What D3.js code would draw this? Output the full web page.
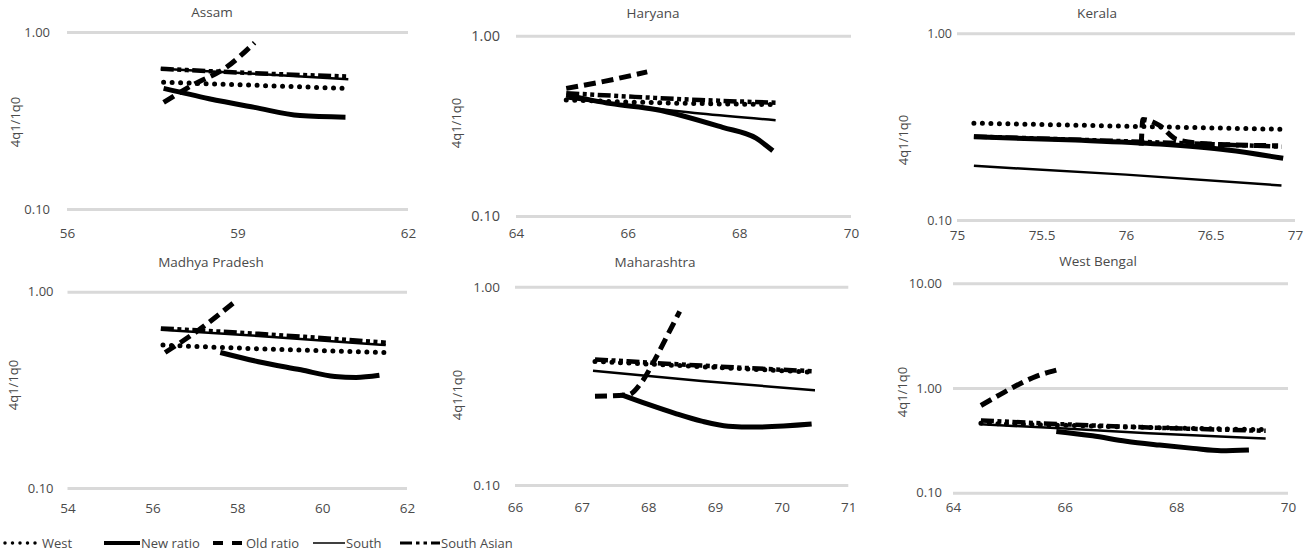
<!DOCTYPE html>
<html>
<head>
<meta charset="utf-8">
<script src="https://cdn.jsdelivr.net/npm/d3@7"></script>
<style>
  body { margin: 0; background: #fff; }
  svg text { font-family: "Open Sans", sans-serif; fill: #4a4a4a; }
</style>
</head>
<body>
<div id="chart"></div>
<script>
// series drawn in every panel, in legend order
const seriesNames = ['West', 'New ratio', 'Old ratio', 'South', 'South Asian'];

// [life expectancy, 4q1/1q0]
const assam = {
  'West':        [[57.7, 0.52], [58.5, 0.51], [59.3, 0.50], [60.1, 0.49], [60.95, 0.48]],
  'New ratio':   [[57.7, 0.48], [58.5, 0.42], [59.3, 0.375], [60.1, 0.337], [60.9, 0.33]],
  'Old ratio':   [[57.7, 0.40], [58.2, 0.50], [58.8, 0.63], [59.3, 0.87]],
  'South':       [[57.65, 0.62], [59.3, 0.58], [60.95, 0.54]],
  'South Asian': [[57.65, 0.62], [59.3, 0.585], [60.95, 0.56]]
};
const haryana = {
  'West':        [[64.9, 0.44], [66.5, 0.425], [68.65, 0.415]],
  'New ratio':   [[64.9, 0.47], [65.7, 0.42], [66.5, 0.39], [67.7, 0.31], [68.3, 0.27], [68.6, 0.23]],
  'Old ratio':   [[64.9, 0.51], [65.6, 0.56], [66.35, 0.63]],
  'South':       [[64.9, 0.45], [66.0, 0.41], [67.3, 0.37], [68.65, 0.34]],
  'South Asian': [[64.9, 0.48], [66.0, 0.46], [67.3, 0.44], [68.65, 0.425]]
};
const kerala = {
  'West':        [[75.1, 0.33], [76.0, 0.318], [76.92, 0.306]],
  'New ratio':   [[75.1, 0.279], [75.7, 0.268], [76.2, 0.255], [76.6, 0.237], [76.93, 0.214]],
  'Old ratio':   [[76.09, 0.25], [76.1, 0.345], [76.2, 0.32], [76.3, 0.27], [76.5, 0.255], [76.9, 0.25]],
  'South':       [[75.1, 0.195], [76.0, 0.175], [76.92, 0.153]],
  'South Asian': [[75.1, 0.28], [76.0, 0.264], [76.92, 0.247]]
};
const madhyaPradesh = {
  'West':        [[56.25, 0.535], [57.6, 0.52], [59.5, 0.505], [61.5, 0.49]],
  'New ratio':   [[57.6, 0.49], [58.5, 0.44], [59.5, 0.40], [60.3, 0.37], [60.8, 0.366], [61.35, 0.375]],
  'Old ratio':   [[56.3, 0.49], [57.1, 0.64], [58.0, 0.91]],
  'South':       [[56.2, 0.64], [58.5, 0.595], [61.5, 0.535]],
  'South Asian': [[56.2, 0.65], [58.5, 0.61], [61.5, 0.55]]
};
const maharashtra = {
  'West':        [[67.2, 0.42], [68.8, 0.395], [70.5, 0.37]],
  'New ratio':   [[67.6, 0.285], [68.0, 0.255], [68.4, 0.23], [68.8, 0.21], [69.2, 0.198], [69.6, 0.196], [70.45, 0.203]],
  'Old ratio':   [[67.2, 0.28], [67.7, 0.285], [67.9, 0.33], [68.1, 0.43], [68.3, 0.58], [68.47, 0.75]],
  'South':       [[67.17, 0.377], [68.8, 0.335], [70.5, 0.30]],
  'South Asian': [[67.2, 0.43], [68.8, 0.40], [70.45, 0.375]]
};
const westBengal = {
  'West':        [[64.5, 0.46], [66, 0.44], [67.5, 0.42], [69.6, 0.40]],
  'New ratio':   [[65.85, 0.385], [66.5, 0.35], [67.1, 0.31], [67.7, 0.285], [68.3, 0.265], [68.8, 0.252], [69.3, 0.256]],
  'Old ratio':   [[64.5, 0.68], [64.85, 0.87], [65.2, 1.1], [65.5, 1.3], [65.85, 1.48]],
  'South':       [[64.5, 0.45], [66, 0.41], [67.5, 0.37], [69.6, 0.33]],
  'South Asian': [[64.5, 0.49], [66, 0.45], [67.5, 0.42], [69.6, 0.39]]
};

// axis ranges and tick labels
const xDomains = [[56, 62], [64, 70], [75, 77], [54, 62], [66, 71], [64, 70]];
const xTickValues = [
  [56, 59, 62],
  [64, 66, 68, 70],
  [75, 75.5, 76, 76.5, 77],
  [54, 56, 58, 60, 62],
  [66, 67, 68, 69, 70, 71],
  [64, 66, 68, 70]
];
const yTickValues = [[0.1, 1], [0.1, 1], [0.1, 1], [0.1, 1], [0.1, 1], [0.1, 1, 10]];
const yTitle = '4q1/1q0';

const panels = [
  { title: 'Assam', data: assam },
  { title: 'Haryana', data: haryana },
  { title: 'Kerala', data: kerala },
  { title: 'Madhya Pradesh', data: madhyaPradesh },
  { title: 'Maharashtra', data: maharashtra },
  { title: 'West Bengal', data: westBengal }
];

// where each little chart sits on the page
const layout = [
  { x0: 67,  x1: 408,  yTop: 32,    yBot: 209,   pad: 17, titleX: 212,  titleY: 12,  ytX: 15,  ytY: 122, xlY: 238, yFont: 13 },
  { x0: 516, x1: 851,  yTop: 35.7,  yBot: 216,   pad: 16, titleX: 653,  titleY: 13,  ytX: 456, ytY: 123, xlY: 238, yFont: 14.5 },
  { x0: 957, x1: 1295, yTop: 33.3,  yBot: 220,   pad: 5,  titleX: 1097, titleY: 13,  ytX: 903, ytY: 140, xlY: 240, yFont: 12.5 },
  { x0: 67.5, x1: 407, yTop: 291.7, yBot: 488,   pad: 14, titleX: 211,  titleY: 262, ytX: 13,  ytY: 385, xlY: 513, yFont: 13 },
  { x0: 515, x1: 848.3, yTop: 286.7, yBot: 485,  pad: 15, titleX: 655,  titleY: 262, ytX: 457, ytY: 395, xlY: 512, yFont: 13.5 },
  { x0: 953, x1: 1288, yTop: 283.3, yBot: 492.7, pad: 11, titleX: 1098, titleY: 261, ytX: 902, ytY: 392, xlY: 512, yFont: 13 }
];

const seriesStyle = {
  'West':        { width: 5,   dash: '0 8.5', cap: 'round' },
  'New ratio':   { width: 5,   dash: null, cap: 'butt' },
  'Old ratio':   { width: 5,   dash: '12 6', cap: 'butt' },
  'South':       { width: 2.5, dash: null, cap: 'butt' },
  'South Asian': { width: 4.5, dash: '13 3.5 4 3.5 4 3.5', cap: 'butt' }
};

const width = 1313, height = 554;
const svg = d3.select('#chart').append('svg')
  .attr('width', width)
  .attr('height', height);

panels.forEach((p, i) => {
  const L = layout[i];
  const yDom = d3.extent(yTickValues[i]);

  const x = d3.scaleLinear().domain(xDomains[i]).range([L.x0, L.x1]);
  const y = d3.scaleLog().domain(yDom).range([L.yBot, L.yTop]);

  const g = svg.append('g').attr('class', 'panel');

  // y axis with gridlines
  const yAxis = d3.axisLeft(y)
    .tickValues(yTickValues[i])
    .tickFormat(d3.format('.2f'))
    .tickSize(-(L.x1 - L.x0))
    .tickPadding(L.pad);

  const yg = g.append('g')
    .attr('transform', `translate(${L.x0},0)`)
    .call(yAxis);
  yg.select('.domain').remove();
  yg.selectAll('line').attr('stroke', '#d9d9d9').attr('stroke-width', 3);
  yg.selectAll('text').attr('font-size', L.yFont).attr('font-family', null);

  // x axis labels only
  const xAxis = d3.axisBottom(x)
    .tickValues(xTickValues[i])
    .tickFormat(d => d)
    .tickSize(0)
    .tickPadding(0);

  const xg = g.append('g')
    .attr('transform', `translate(0,${L.xlY - 9.5})`)
    .call(xAxis);
  xg.select('.domain').remove();
  xg.selectAll('text').attr('font-size', 13.5).attr('font-family', null);

  // titles
  g.append('text')
    .attr('x', L.titleX)
    .attr('y', L.titleY)
    .attr('dy', '0.35em')
    .attr('text-anchor', 'middle')
    .attr('font-size', 13.5)
    .text(p.title);

  g.append('text')
    .attr('transform', `translate(${L.ytX},${L.ytY}) rotate(-90)`)
    .attr('dy', '0.35em')
    .attr('text-anchor', 'middle')
    .attr('font-size', 13)
    .text(yTitle);

  const line = d3.line()
    .x(d => x(d[0]))
    .y(d => y(d[1]))
    .curve(d3.curveMonotoneX);

  seriesNames.forEach(name => {
    const st = seriesStyle[name];
    g.append('path')
      .datum(p.data[name])
      .attr('fill', 'none')
      .attr('stroke', '#000')
      .attr('stroke-width', st.width)
      .attr('stroke-linecap', st.cap)
      .attr('stroke-dasharray', st.dash)
      .attr('d', line);
  });
});

// legend along the bottom
const legendY = 543;
const legendItems = [
  { name: 'West',        x0: 5,   x1: 41,  tx: 42,  width: 3.5, dash: '0 7.5', cap: 'round' },
  { name: 'New ratio',   x0: 104, x1: 140, tx: 141, width: 4,   dash: null, cap: 'butt' },
  { name: 'Old ratio',   x0: 213, x1: 242, tx: 246, width: 4,   dash: '10 9', cap: 'butt' },
  { name: 'South',       x0: 313, x1: 345, tx: 346, width: 1.5, dash: null, cap: 'butt' },
  { name: 'South Asian', x0: 400, x1: 440, tx: 441, width: 3,   dash: '12 4 3.5 4 3.5 4', cap: 'butt' }
];

const legend = svg.append('g').attr('class', 'legend');
legendItems.forEach(it => {
  legend.append('line')
    .attr('x1', it.x0).attr('x2', it.x1)
    .attr('y1', legendY).attr('y2', legendY)
    .attr('stroke', '#000')
    .attr('stroke-width', it.width)
    .attr('stroke-linecap', it.cap)
    .attr('stroke-dasharray', it.dash);
  legend.append('text')
    .attr('x', it.tx)
    .attr('y', legendY)
    .attr('dy', '0.35em')
    .attr('font-size', 13)
    .text(it.name);
});
</script>
</body>
</html>
